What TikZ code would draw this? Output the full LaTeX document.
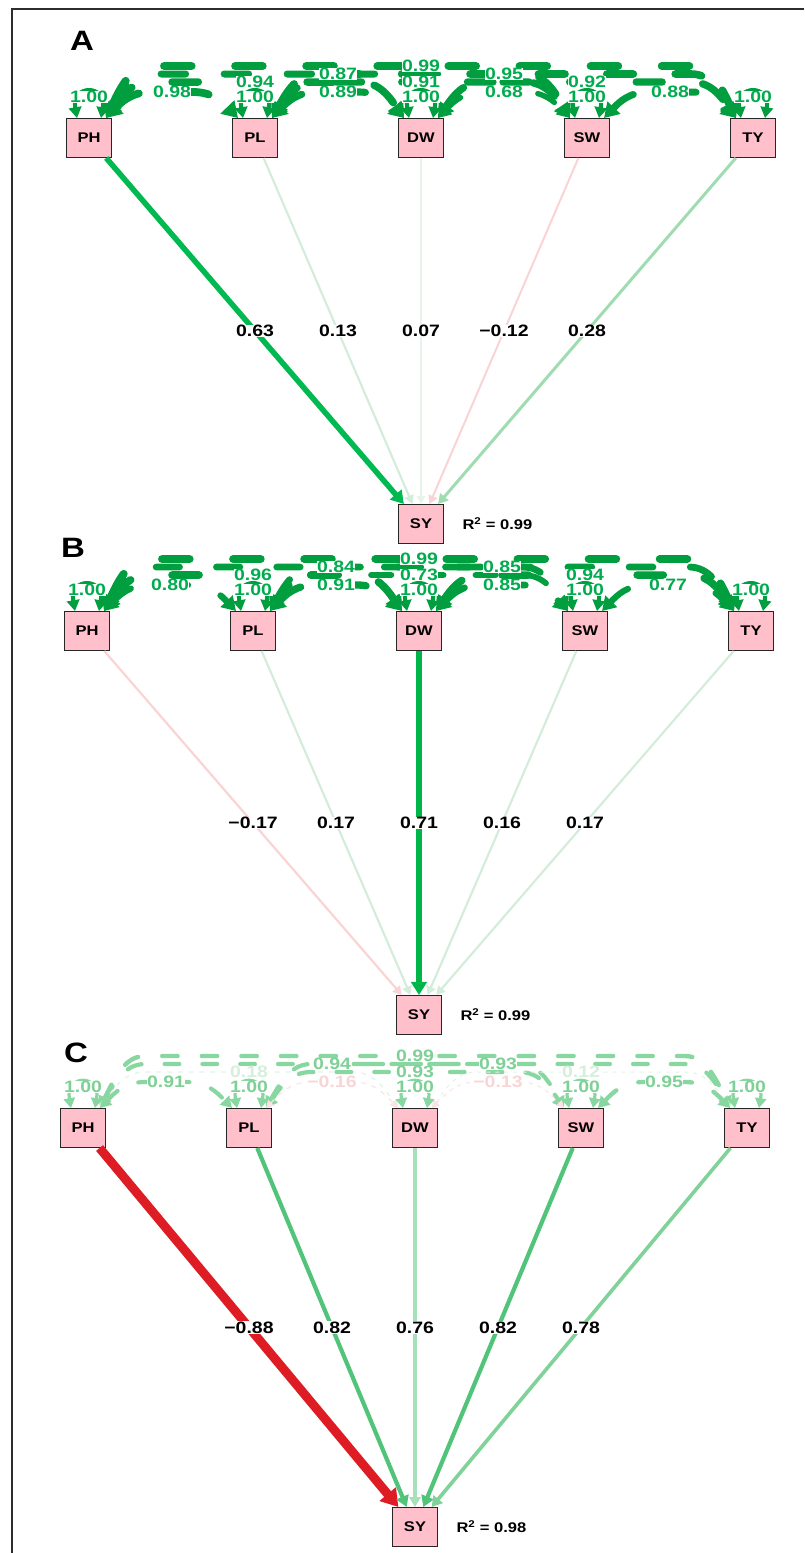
\documentclass[tikz,border=0pt]{standalone}
\usepackage{fontspec}
\setmainfont[FakeStretch=1.18]{Liberation Sans}
\usetikzlibrary{arrows.meta,calc}

\definecolor{boxpink}{RGB}{255,192,203}
\definecolor{framegray}{RGB}{45,45,45}
\definecolor{arcA}{RGB}{0,158,62}
\definecolor{labA}{RGB}{0,172,78}
\definecolor{arcC}{RGB}{136,214,160}
\definecolor{labC}{RGB}{126,208,150}
\definecolor{faintG}{RGB}{226,242,230}
\definecolor{faintGl}{RGB}{214,238,220}
\definecolor{faintR}{RGB}{252,226,226}
\definecolor{faintRl}{RGB}{248,214,214}
% regression path colours
\definecolor{gStrong}{RGB}{0,185,80}
\definecolor{gPale}{RGB}{212,237,218}
\definecolor{gPaler}{RGB}{230,244,234}
\definecolor{rPale}{RGB}{250,212,212}
\definecolor{gMid}{RGB}{160,220,178}
\definecolor{gDW}{RGB}{0,182,72}
\definecolor{rStrong}{RGB}{222,28,36}
\definecolor{gC1}{RGB}{82,196,122}
\definecolor{gC2}{RGB}{168,224,188}
\definecolor{gC3}{RGB}{128,210,152}

\tikzset{
  mvar/.style={draw=black!85, fill=boxpink, line width=1pt, minimum width=45pt,
    minimum height=39pt, inner sep=0pt, font=\bfseries\fontsize{14}{14}\selectfont},
  tipboth/.style={{Triangle[length=6pt 1.2,width=6pt 1.6]}-{Triangle[length=6pt 1.2,width=6pt 1.6]}},
  regedge/.style={-{Triangle[length=6pt 1.2,width=6pt 1.6]}},
  covlab/.style={fill=white, inner sep=0.4pt, font=\bfseries\fontsize{16.5}{16.5}\selectfont},
  pathlab/.style={fill=white, inner sep=0.4pt, text=black, font=\bfseries\fontsize{16.5}{16.5}\selectfont},
  panellab/.style={font=\bfseries\fontsize{28}{28}\selectfont},
  rsq/.style={anchor=west, font=\bfseries\fontsize{14}{14}\selectfont},
}

% covariance arcs of one row: prefix, list of from/to/gap/label/colour/labelcolour/width
% each arc climbs from the right top corner of one box, runs flat, and drops
% onto the left top corner of the other box
\newcommand\covarcs[2]{%
  \foreach \a/\b/\g/\v/\col/\lc/\w in {#2} {%
    \pgfmathsetmacro\h{ifthenelse(\g==1,26,ifthenelse(\g==2,36,ifthenelse(\g==3,44,52)))}%
    \pgfmathsetmacro\hc{0.6*\h}%
    \pgfmathsetmacro\don{3.5*\w}%
    \pgfmathsetmacro\doff{5.5*\w}%
    \draw[tipboth, line cap=round, draw=\col, line width=\w pt,
          dash pattern=on \don pt off \doff pt]
      ($(#1\a.north east)+(-6,0)$)
      .. controls +(15,-\hc) and +(-20,0) .. ($(#1\a.north east)+(39,-\h)$)
      -- ($(#1\b.north west)+(-39,-\h)$)
      .. controls +(20,0) and +(-15,-\hc) .. ($(#1\b.north west)+(6,0)$);
    \coordinate (#1\a\b) at ($(#1\a.north east)!.5!(#1\b.north west)+(0,-\h)$);
  }%
  \foreach \a/\b/\g/\v/\col/\lc/\w in {#2} {%
    \node[covlab, text=\lc] (#1\a\b lab) at (#1\a\b) {\v};
  }%
}

% variance loop on top of a variable box
\newcommand\varloop[4]{% node, colour, label colour, width
  \draw[tipboth, draw=#2, line width=#4pt]
    ($(#1.north)+(-12,0)$) .. controls +(-6,-34) and +(6,-34) .. ($(#1.north)+(12,0)$);
  \node[covlab, text=#3] (#1var) at ($(#1.north)+(0,-21)$) {1.00};
}

\begin{document}
\begin{tikzpicture}[x=1pt,y=-1pt]
\useasboundingbox (0,0) rectangle (804,1553);

% outer frame
\coordinate (fb) at (12,1553);
\coordinate (ft) at (12,9);
\coordinate (fr) at (804,9);
\draw[framegray, line width=1.6pt] (fb) -- (ft) -- (fr);

% ---------------- panel A ----------------
\node[panellab] (labA) at (82,41) {A};
\foreach \n [count=\k from 0] in {PH,PL,DW,SW,TY}
  \node[mvar] (a\n) at (89+166*\k,138) {\n};
\node[mvar] (aSY) at (421,524) {SY};
\node[rsq] (aR) at ($(aSY.east)+(15,0)$) {R\textsuperscript{2} = 0.99};

\foreach \n/\v/\col/\w in {PH/0.63/gStrong/5.5, PL/0.13/gPale/2.2, DW/0.07/gPaler/1.5,
                           SW/−0.12/rPale/2, TY/0.28/gMid/3}
  \draw[regedge, draw=\col, line width=\w pt] (a\n) -- (aSY)
    node[pathlab, pos=.5] {\v};

\covarcs{a}{PH/TY/4/0.99/arcA/labA/7.9, PH/SW/3/0.87/arcA/labA/7.0, PL/TY/3/0.95/arcA/labA/7.6,
  PH/DW/2/0.94/arcA/labA/7.5, PL/SW/2/0.91/arcA/labA/7.3, DW/TY/2/0.92/arcA/labA/7.4,
  PH/PL/1/0.98/arcA/labA/7.8, PL/DW/1/0.89/arcA/labA/7.1, DW/SW/1/0.68/arcA/labA/5.4,
  SW/TY/1/0.88/arcA/labA/7.0}
\foreach \n in {PH,PL,DW,SW,TY} {\varloop{a\n}{arcA}{labA}{4}}

% ---------------- panel B ----------------
\node[panellab] (labB) at (73,548) {B};
\foreach \n [count=\k from 0] in {PH,PL,DW,SW,TY}
  \node[mvar] (b\n) at (87+166*\k,631) {\n};
\node[mvar] (bSY) at (419,1015) {SY};
\node[rsq] (bR) at ($(bSY.east)+(15,0)$) {R\textsuperscript{2} = 0.99};

\foreach \n/\v/\col/\w in {PH/−0.17/rPale/2.2, PL/0.17/gPale/2.2, DW/0.71/gDW/6,
                           SW/0.16/gPale/2.2, TY/0.17/gPale/2.2}
  \draw[regedge, draw=\col, line width=\w pt] (b\n) -- (bSY)
    node[pathlab, pos=.5] {\v};

\covarcs{b}{PH/TY/4/0.99/arcA/labA/7.9, PH/SW/3/0.84/arcA/labA/6.7, PL/TY/3/0.85/arcA/labA/6.8,
  PH/DW/2/0.96/arcA/labA/7.7, PL/SW/2/0.73/arcA/labA/5.8, DW/TY/2/0.94/arcA/labA/7.5,
  PH/PL/1/0.80/arcA/labA/6.4, PL/DW/1/0.91/arcA/labA/7.3, DW/SW/1/0.85/arcA/labA/6.8,
  SW/TY/1/0.77/arcA/labA/6.2}
\foreach \n in {PH,PL,DW,SW,TY} {\varloop{b\n}{arcA}{labA}{4}}

% ---------------- panel C ----------------
\node[panellab] (labC) at (76,1053) {C};
\foreach \n [count=\k from 0] in {PH,PL,DW,SW,TY}
  \node[mvar] (c\n) at (83+166*\k,1128) {\n};
\node[mvar] (cSY) at (415,1527) {SY};
\node[rsq] (cR) at ($(cSY.east)+(15,0)$) {R\textsuperscript{2} = 0.98};

\foreach \n/\v/\col/\w in {PH/−0.88/rStrong/9, PL/0.82/gC1/4.2, DW/0.76/gC2/3.2,
                           SW/0.82/gC1/4.2, TY/0.78/gC3/3.6}
  \draw[regedge, draw=\col, line width=\w pt] (c\n) -- (cSY)
    node[pathlab, pos=.5] {\v};

\covarcs{c}{PH/TY/4/0.99/arcC/labC/4.4, PH/SW/3/0.94/arcC/labC/4.2, PL/TY/3/0.93/arcC/labC/4.2,
  PH/DW/2/0.18/faintG/faintGl/1.2, PL/SW/2/0.93/arcC/labC/4.2, DW/TY/2/0.12/faintG/faintGl/1,
  PH/PL/1/0.91/arcC/labC/4.1, PL/DW/1/−0.16/faintR/faintRl/1.2, DW/SW/1/−0.13/faintR/faintRl/1,
  SW/TY/1/0.95/arcC/labC/4.3}
\foreach \n in {PH,PL,DW,SW,TY} {\varloop{c\n}{arcC}{labC}{3.2}}

\end{tikzpicture}
\end{document}
